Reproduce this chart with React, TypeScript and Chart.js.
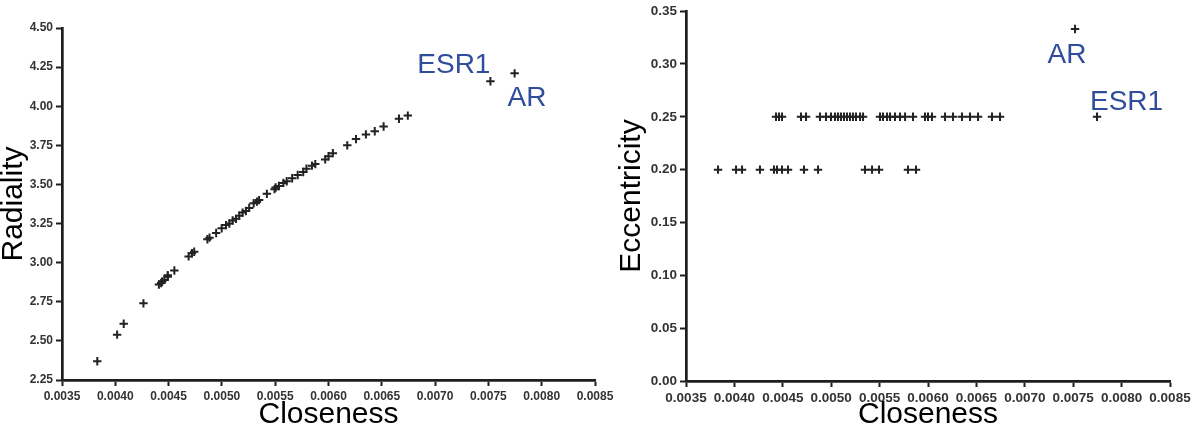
import React, { useEffect, useRef } from "react";
import { Chart, registerables } from "chart.js";

Chart.register(...registerables);

// ---- data ----
const closeness = [
  0.003831, 0.004017, 0.004079, 0.004264, 0.004409, 0.00443, 0.00444, 0.004461, 0.004492, 0.004492,
  0.004554, 0.004688, 0.004719, 0.00474, 0.004864, 0.004884, 0.004946, 0.004998, 0.005039, 0.00507,
  0.005101, 0.005132, 0.005163, 0.005194, 0.005225, 0.005256, 0.005298, 0.005329, 0.005349, 0.005422,
  0.005494, 0.005504, 0.005535, 0.005577, 0.005608, 0.005659, 0.005711, 0.005763, 0.005793, 0.005845,
  0.005876, 0.005969, 0.006, 0.006041, 0.006176, 0.006258, 0.006351, 0.006434, 0.006517, 0.006661,
  0.006744,
];
const radiality = [
  2.37, 2.54, 2.61, 2.74, 2.86, 2.87, 2.88, 2.89, 2.91, 2.92,
  2.95, 3.04, 3.06, 3.07, 3.15, 3.16, 3.19, 3.22, 3.24, 3.25,
  3.27, 3.28, 3.3, 3.32, 3.33, 3.35, 3.38, 3.39, 3.4, 3.44,
  3.47, 3.48, 3.49, 3.51, 3.52, 3.54, 3.56, 3.58, 3.6, 3.62,
  3.63, 3.66, 3.68, 3.7, 3.75, 3.79, 3.82, 3.84, 3.87, 3.92,
  3.94,
];
const eccentricity = [
  0.2, 0.2, 0.2, 0.2, 0.2, 0.25, 0.2, 0.25, 0.2, 0.25,
  0.2, 0.25, 0.2, 0.25, 0.2, 0.25, 0.25, 0.25, 0.25, 0.25,
  0.25, 0.25, 0.25, 0.25, 0.25, 0.25, 0.25, 0.25, 0.2, 0.2,
  0.2, 0.25, 0.25, 0.25, 0.25, 0.25, 0.25, 0.25, 0.2, 0.25,
  0.2, 0.25, 0.25, 0.25, 0.25, 0.25, 0.25, 0.25, 0.25, 0.25,
  0.25,
];

// the two highlighted hub nodes
const hubNames = ["AR", "ESR1"];
const hubCloseness = [0.007519, 0.007746];
const hubRadiality = [4.16, 4.21];
const hubEccentricity = [0.333, 0.25];

const closenessTicks = [0.0035, 0.004, 0.0045, 0.005, 0.0055, 0.006, 0.0065, 0.007, 0.0075, 0.008, 0.0085];
const radialityTicks = [2.25, 2.5, 2.75, 3.0, 3.25, 3.5, 3.75, 4.0, 4.25, 4.5];
const eccentricityTicks = [0, 0.05, 0.1, 0.15, 0.2, 0.25, 0.3, 0.35];

const FONT = "'Liberation Sans', Arial, Helvetica, sans-serif";
const MARK = "#222222";
const AXIS = "#1e1e1e";
const LABEL_BLUE = "#2f4d9c";

const hubLabelPlugin = {
  id: "hubLabels",
  afterDatasetsDraw(chart: any, _args: any, opts: any) {
    const items = (opts && opts.items) || [];
    const ctx = chart.ctx;
    const xs = chart.scales.x;
    const ys = chart.scales.y;
    ctx.save();
    ctx.font = `normal ${opts.size}px ${FONT}`;
    ctx.fillStyle = LABEL_BLUE;
    ctx.textBaseline = "alphabetic";
    for (const it of items) {
      const px = xs.getPixelForValue(it.x) + it.dx;
      const py = ys.getPixelForValue(it.y) + it.dy;
      ctx.textAlign = it.align;
      ctx.fillText(it.text, px, py);
    }
    ctx.restore();
  },
};

function makeConfig(p: any) {
  const pts = closeness.map((c, i) => ({ x: c, y: p.values[i] }));
  hubCloseness.forEach((c, i) => pts.push({ x: c, y: p.hubValues[i] }));
  return {
    type: "scatter",
    data: {
      datasets: [
        {
          data: pts,
          pointStyle: "cross",
          pointRadius: p.radius,
          pointHoverRadius: p.radius,
          pointBorderWidth: 2,
          borderColor: MARK,
          backgroundColor: MARK,
        },
      ],
    },
    plugins: [hubLabelPlugin],
    options: {
      animation: false,
      responsive: false,
      maintainAspectRatio: false,
      events: [],
      layout: { padding: p.padding },
      plugins: {
        legend: { display: false },
        tooltip: { enabled: false },
        hubLabels: { items: p.labels, size: 28 },
      },
      scales: {
        x: {
          type: "linear",
          min: closenessTicks[0],
          max: closenessTicks[closenessTicks.length - 1],
          afterBuildTicks: (a: any) => {
            a.ticks = closenessTicks.map((v) => ({ value: v }));
          },
          afterFit: (s: any) => {
            s.height = p.xHeight;
          },
          ticks: {
            callback: (v: any) => Number(v).toFixed(4),
            font: { family: FONT, size: p.tickSize, weight: "bold" },
            color: "#333",
            maxRotation: 0,
            minRotation: 0,
            autoSkip: false,
            padding: 3,
          },
          grid: { display: true, drawOnChartArea: false, drawTicks: true, tickLength: 6, tickWidth: 2, tickColor: AXIS },
          border: { display: true, width: 2.7, color: AXIS },
          title: {
            display: true,
            text: "Closeness",
            color: "#000",
            font: { family: FONT, size: 30, lineHeight: 0.9 },
            padding: { top: 0, bottom: 3 },
          },
        },
        y: {
          type: "linear",
          min: p.yTicks[0],
          max: p.yTicks[p.yTicks.length - 1],
          afterBuildTicks: (a: any) => {
            a.ticks = p.yTicks.map((v: number) => ({ value: v }));
          },
          afterFit: (s: any) => {
            s.width = p.yWidth;
          },
          ticks: {
            callback: (v: any) => Number(v).toFixed(2),
            font: { family: FONT, size: p.tickSize, weight: "bold" },
            color: "#333",
            autoSkip: false,
            padding: 3,
          },
          grid: { display: true, drawOnChartArea: false, drawTicks: true, tickLength: 6, tickWidth: 2, tickColor: AXIS },
          border: { display: true, width: 2.7, color: AXIS },
          title: {
            display: true,
            text: p.yTitle,
            color: "#000",
            font: { family: FONT, size: 30, lineHeight: 0.9 },
            padding: { top: p.yTitlePad, bottom: 0 },
          },
        },
      },
    },
  };
}

export default function App() {
  const leftRef = useRef<HTMLCanvasElement>(null);
  const rightRef = useRef<HTMLCanvasElement>(null);

  useEffect(() => {
    const left = new Chart(
      leftRef.current as any,
      makeConfig({
        values: radiality,
        hubValues: hubRadiality,
        yTicks: radialityTicks,
        yTitle: "Radiality",
        yTitlePad: 0,
        padding: { left: 0, top: 28, right: 605, bottom: 0 },
        yWidth: 62,
        xHeight: 51,
        tickSize: 12,
        radius: 4.2,
        labels: [
          { text: hubNames[1], x: hubCloseness[0], y: hubRadiality[0], dx: 0, dy: -8, align: "right" },
          { text: hubNames[0], x: hubCloseness[1], y: hubRadiality[1], dx: -7, dy: 33, align: "left" },
        ],
      }) as any
    );
    const right = new Chart(
      rightRef.current as any,
      makeConfig({
        values: eccentricity,
        hubValues: hubEccentricity,
        yTicks: eccentricityTicks,
        yTitle: "Eccentricity",
        yTitlePad: 18,
        padding: { left: 600, top: 11, right: 30, bottom: 0 },
        yWidth: 86,
        xHeight: 50,
        tickSize: 13.5,
        radius: 4.2,
        labels: [
          { text: hubNames[0], x: hubCloseness[0], y: hubEccentricity[0], dx: -8, dy: 34, align: "center" },
          { text: hubNames[1], x: hubCloseness[1], y: hubEccentricity[1], dx: -7, dy: -7, align: "left" },
        ],
      }) as any
    );
    return () => {
      left.destroy();
      right.destroy();
    };
  }, []);

  return (
    <div style={{ position: "absolute", left: 0, top: 0, width: 1200, height: 431, background: "#fff", overflow: "hidden" }}>
      <canvas ref={leftRef} width={1200} height={431} style={{ position: "absolute", left: 0, top: 0 }} />
      <canvas ref={rightRef} width={1200} height={431} style={{ position: "absolute", left: 0, top: 0 }} />
    </div>
  );
}
